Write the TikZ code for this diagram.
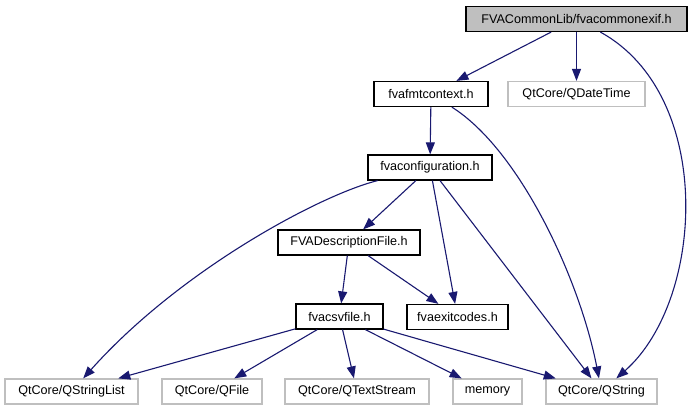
\documentclass[tikz,border=0pt]{standalone}
\usepackage{fontspec}
\setmainfont{Liberation Sans}
\usetikzlibrary{arrows.meta}
\definecolor{edgeblue}{RGB}{25,25,112}
\definecolor{grey75}{RGB}{191,191,191}
\begin{document}
\begin{tikzpicture}[x=1pt, y=-1pt,
    hdr/.style={draw=black, line width=1.2pt, fill=white, minimum height=25pt, inner sep=0pt, font=\fontsize{12.6}{15}\selectfont},
    ext/.style={hdr, draw=grey75},
    dep/.style={draw=edgeblue, line width=1.1pt, -{Triangle[length=12pt, width=9pt]}, edgeblue}]
    \useasboundingbox (0,0) rectangle (693,411);
    % headers of the project
    \node[hdr, fill=grey75, minimum width=221pt] (exif) at (576.5,19) {FVACommonLib/fvacommonexif.h};
    \node[hdr, minimum width=114pt] (fmt) at (431,94) {fvafmtcontext.h};
    \node[hdr, minimum width=124pt] (conf) at (430,167.5) {fvaconfiguration.h};
    \node[hdr, minimum width=142pt] (desc) at (349,242.5) {FVADescriptionFile.h};
    \node[hdr, minimum width=87pt] (csv) at (339.5,316.5) {fvacsvfile.h};
    \node[hdr, minimum width=101pt] (exit) at (457.5,317) {fvaexitcodes.h};
    % outside headers
    \node[ext, minimum width=137pt] (qdt) at (576.5,94) {QtCore/QDateTime};
    \node[ext, minimum width=133pt] (qsl) at (71.5,391.5) {QtCore/QStringList};
    \node[ext, minimum width=100pt] (qfile) at (212,391.5) {QtCore/QFile};
    \node[ext, minimum width=144pt] (qts) at (357,391.5) {QtCore/QTextStream};
    \node[ext, minimum width=69pt] (mem) at (487.5,391.5) {memory};
    \node[ext, minimum width=111pt] (qstr) at (601.5,391.5) {QtCore/QString};
    % includes
    \draw[dep] (exif) -- (fmt);
    \draw[dep] (exif) -- (qdt);
    \draw[dep] (exif) .. controls (715,95) and (705,300) .. (qstr);
    \draw[dep] (fmt) -- (conf);
    \draw[dep] (fmt) .. controls (520,150) and (580,280) .. (qstr);
    \draw[dep] (conf) -- (desc);
    \draw[dep] (conf) -- (exit);
    \draw[dep] (conf) -- (qstr);
    \draw[dep] (conf) .. controls (320,195) and (180,270) .. (qsl);
    \draw[dep] (desc) -- (csv);
    \draw[dep] (desc) -- (exit);
    \foreach \dst in {qsl, qfile, qts, mem, qstr}
        \draw[dep] (csv) -- (\dst);
\end{tikzpicture}
\end{document}
